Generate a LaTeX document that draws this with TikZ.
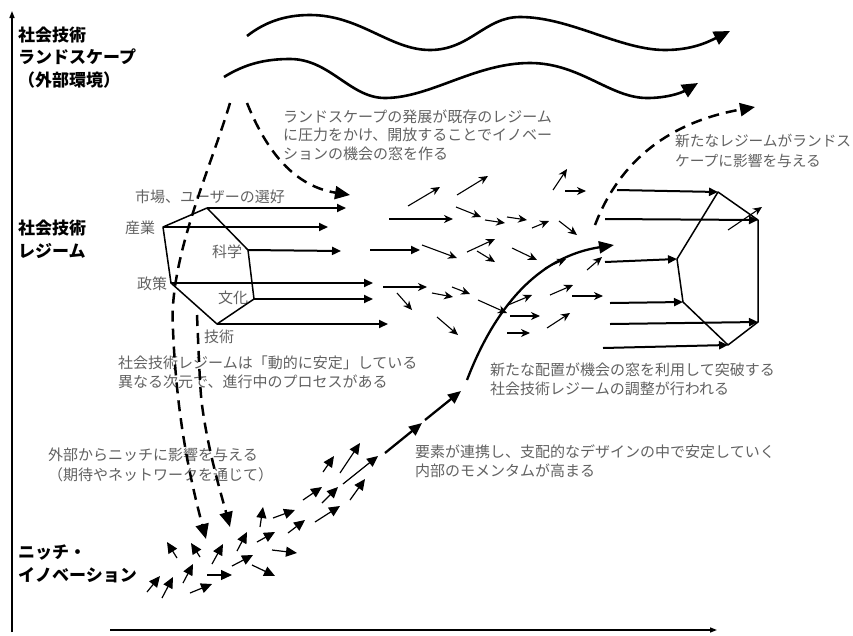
\documentclass[tikz,border=0pt]{standalone}
\usepackage{fontspec}
\newfontfamily\jp{Noto Sans CJK JP}
\usetikzlibrary{arrows.meta}
\definecolor{txtgray}{rgb}{0.38,0.38,0.38}
\tikzset{
  lbl/.style={inner sep=0pt, anchor=west, align=left, text=txtgray, font=\jp\fontsize{15}{18.5}\selectfont},
  bold/.style={inner sep=0pt, anchor=west, align=left, text=black, font=\jp\bfseries\fontsize{17}{22.5}\selectfont},
  axis/.style={line width=1.4pt, -{Triangle[length=7pt,width=5pt]}},
  wave/.style={line width=2.6pt, -{Triangle[length=16pt,width=14pt]}},
  dasharrow/.style={line width=2.5pt, dash pattern=on 11pt off 7pt, -{Triangle[length=15pt,width=13pt]}},
  regarrow/.style={line width=2pt, -{Triangle[length=9pt,width=8pt]}},
  hexline/.style={line width=1.5pt, line join=round},
  small/.style={line width=1.1pt, -{Stealth[length=9pt,width=8pt,inset=2.8pt]}},
  niche/.style={line width=1.2pt, -{Triangle[length=11pt,width=10pt]}},
  traj/.style={line width=2.3pt, -{Triangle[length=13pt,width=11pt]}}
}
\begin{document}
\begin{tikzpicture}[x=1pt,y=-1pt]
\useasboundingbox (0,0) rectangle (853,635);

% ---------- texts ----------
\node[bold] (land) at (18,57.5) {社会技術\\ランドスケープ\\（外部環境）};
\node[bold] (reg) at (18,239.5) {社会技術\\レジーム};
\node[bold] (niche) at (18,564) {ニッチ・\\イノベーション};

\node[lbl] (t1) at (283,135) {ランドスケープの発展が既存のレジーム\\に圧力をかけ、開放することでイノベー\\ションの機会の窓を作る};
\node[lbl, font=\jp\fontsize{14.7}{20.5}\selectfont] (t2) at (675,151) {新たなレジームがランドス\\ケープに影響を与える};
\node[lbl] (mkt) at (135,197) {市場、ユーザーの選好};
\node[lbl] (ind) at (125,228) {産業};
\node[lbl] (sci) at (212,252) {科学};
\node[lbl] (pol) at (137,284) {政策};
\node[lbl] (cul) at (218,298) {文化};
\node[lbl] (tec) at (204,337) {技術};
\node[lbl, font=\jp\fontsize{15}{19}\selectfont] (t3) at (118,372.5) {社会技術レジームは「動的に安定」している\\異なる次元で、進行中のプロセスがある};
\node[lbl, font=\jp\fontsize{15}{19}\selectfont] (t4) at (490,379.5) {新たな配置が機会の窓を利用して突破する\\社会技術レジームの調整が行われる};
\node[lbl] (t5) at (415,461) {要素が連携し、支配的なデザインの中で安定していく\\内部のモメンタムが高まる};
\node[lbl, font=\jp\fontsize{15}{20}\selectfont] (t6) at (48,465) {外部からニッチに影響を与える\\（期待やネットワークを通じて）};

% ---------- axes ----------
\coordinate (yb) at (12,632);
\coordinate (yt) at (12,11);
\coordinate (xl) at (110,630);
\coordinate (xr) at (717,630);
\draw[axis] (yb) -- (yt);
\draw[axis] (xl) -- (xr);

% ---------- landscape waves ----------
\draw[wave] (247,36) .. controls (265,22) and (285,15) .. (310,15)
  .. controls (360,15) and (390,50) .. (430,50)
  .. controls (470,50) and (485,17) .. (520,17)
  .. controls (570,17) and (620,50) .. (665,50)
  .. controls (692,50) and (708,42) .. (730,31);
\draw[wave] (224,77) .. controls (245,64) and (265,59) .. (290,59)
  .. controls (330,59) and (350,98) .. (385,98)
  .. controls (430,98) and (475,63) .. (530,63)
  .. controls (580,63) and (610,98) .. (647,98)
  .. controls (667,98) and (681,93) .. (698,83);

% ---------- dashed influences ----------
\draw[dasharrow] (230,103) .. controls (210,170) and (168,260) .. (173,330)
  .. controls (176,400) and (185,460) .. (206,539);
\draw[dasharrow] (197,315) .. controls (199,360) and (200,390) .. (202,405)
  .. controls (208,450) and (220,490) .. (230,527);
\draw[dasharrow] (247,103) .. controls (270,160) and (300,187) .. (350,195);
\draw[dasharrow] (595,225) .. controls (620,160) and (670,122) .. (755,107);

% ---------- regime hexagon (left) ----------
\coordinate (A1) at (207,208);
\coordinate (A2) at (248,250);
\coordinate (A3) at (254,299);
\coordinate (A4) at (217,324);
\coordinate (A5) at (171,283);
\coordinate (A6) at (163,227);
\draw[hexline] (A1) -- (A2) -- (A3) -- (A4) -- (A5) -- (A6) -- cycle;
\coordinate (E1) at (346,208);
\coordinate (E2) at (328,227);
\coordinate (E3) at (341,251);
\coordinate (E4) at (373,283);
\coordinate (E5) at (373,299);
\coordinate (E6) at (388,324);
\draw[regarrow] (A1) -- (E1);
\draw[regarrow] (A6) -- (E2);
\draw[regarrow] (A2) -- (E3);
\draw[regarrow] (A5) -- (E4);
\draw[regarrow] (A3) -- (E5);
\draw[regarrow] (A4) -- (E6);

% ---------- new regime hexagon (right) ----------
\coordinate (B1) at (718,192);
\coordinate (B2) at (758,220);
\coordinate (B3) at (758,322);
\coordinate (B4) at (728,345);
\coordinate (B5) at (683,302);
\coordinate (B6) at (677,259);
\draw[hexline] (B1) -- (B2) -- (B3) -- (B4) -- (B5) -- (B6) -- cycle;
\coordinate (S1) at (617,190);
\coordinate (S2) at (605,219);
\coordinate (S3) at (605,262);
\coordinate (S4) at (610,303);
\coordinate (S5) at (610,324);
\coordinate (S6) at (603,348);
\draw[regarrow] (S1) -- (B1);
\draw[regarrow] (S2) -- (B2);
\draw[regarrow] (S3) -- (B6);
\draw[regarrow] (S4) -- (B5);
\draw[regarrow] (S5) -- (B3);
\draw[regarrow] (S6) -- (B4);
\draw[small] (728,230) -- (762,207);

% ---------- middle small arrows ----------
\draw[small] (408,206) -- (440,187);
\draw[small] (457,195) -- (488,176);
\draw[small] (553,190) -- (567,169);
\draw[small] (565,191) -- (586,191);
\draw[small, line width=1.4pt] (389,219) -- (453,219);
\draw[small] (456,207) -- (481,217);
\draw[small] (485,220) -- (505,223);
\draw[small] (507,217) -- (527,220);
\draw[small] (532,228) -- (549,221);
\draw[small] (559,221) -- (577,235);
\draw[regarrow] (370,250) -- (420,250);
\draw[small] (422,245) -- (457,258);
\draw[small] (467,252) -- (495,239);
\draw[small] (477,251) -- (495,262);
\draw[small] (512,248) -- (537,260);
\draw[small] (587,270) -- (602,257);
\draw[small, line width=1.4pt] (383,287) -- (427,287);
\draw[small] (397,293) -- (412,310);
\draw[small] (432,293) -- (453,297);
\draw[small] (452,287) -- (470,294);
\draw[small] (437,317) -- (458,335);
\draw[small] (478,300) -- (507,313);
\draw[small] (508,305) -- (532,295);
\draw[small] (510,316) -- (540,316);
\draw[small] (507,333) -- (530,333);
\draw[small] (550,295) -- (573,285);
\draw[small] (547,328) -- (570,313);
\draw[small] (572,296) -- (603,296);
\draw[small] (545,268) -- (566,259);

% ---------- breakthrough trajectory ----------
\draw[traj] (385,453) -- (422,423);
\draw[traj] (425,420) -- (461,391);
\draw[traj, -{Triangle[length=15pt,width=12pt]}] (467,380) .. controls (490,320) and (530,258) .. (614,245);

% ---------- niche arrows ----------
\draw[niche] (147,592) -- (160,576);
\draw[niche] (162,598) -- (173,577);
\draw[niche] (183,583) -- (193,564);
\draw[niche] (190,593) -- (212,584);
\draw[niche] (177,558) -- (167,542);
\draw[niche] (200,557) -- (191,543);
\draw[niche] (212,564) -- (223,544);
\draw[niche] (207,575) -- (232,575);
\draw[niche] (237,551) -- (247,532);
\draw[niche] (232,566) -- (253,555);
\draw[niche] (252,565) -- (275,576);
\draw[niche] (257,542) -- (275,532);
\draw[niche] (260,527) -- (263,507);
\draw[niche] (273,518) -- (295,510);
\draw[niche] (272,550) -- (297,553);
\draw[niche] (288,533) -- (305,520);
\draw[niche] (303,500) -- (322,487);
\draw[niche] (315,522) -- (340,506);
\draw[niche] (322,503) -- (338,487);
\draw[niche] (323,472) -- (334,456);
\draw[niche] (340,473) -- (360,443);
\draw[niche] (343,484) -- (378,456);
\draw[niche] (350,500) -- (365,479);
\end{tikzpicture}
\end{document}
